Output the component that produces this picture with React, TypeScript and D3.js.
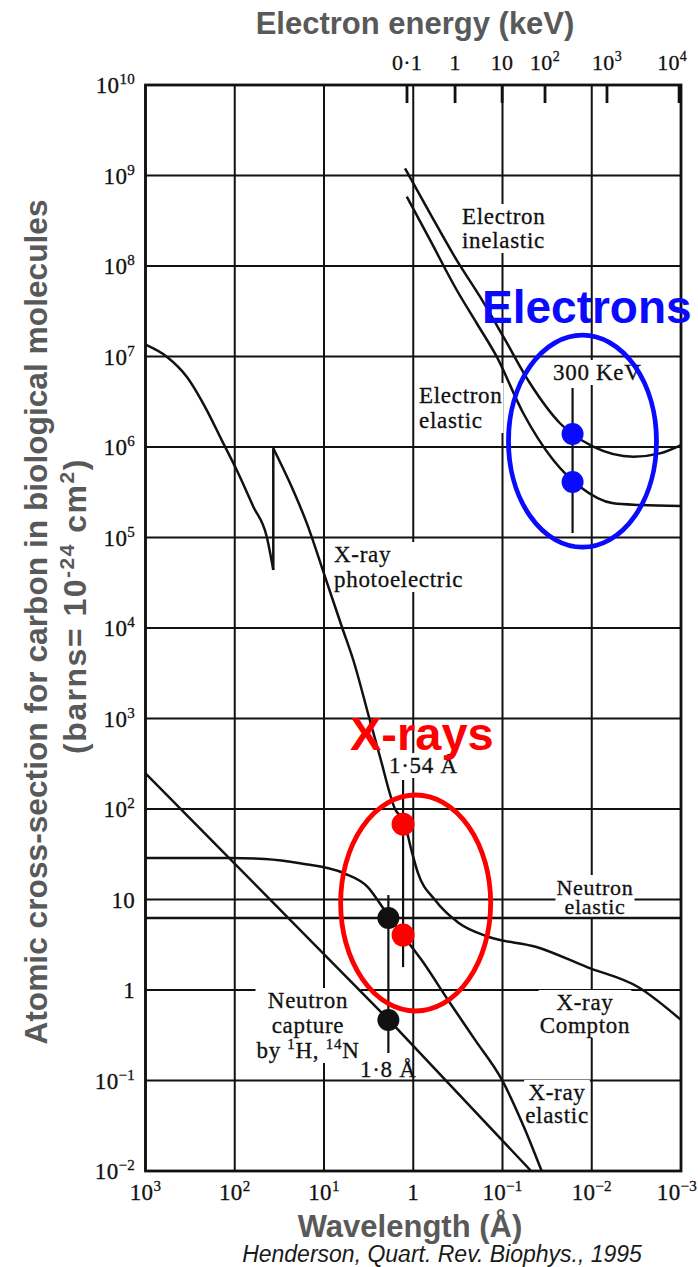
import React, { useEffect, useRef } from "react";
import * as d3 from "d3";

const W = 698;
const H = 1267;

// ---- axes ----
const wavelengthTicks = [1000, 100, 10, 1, 0.1, 0.01, 0.001];
const wavelengthTickBase = ["10", "10", "10", "1", "10", "10", "10"];
const wavelengthTickExp = ["3", "2", "1", "", "−1", "−2", "−3"];

const crossSectionTicks = [1e10, 1e9, 1e8, 1e7, 1e6, 1e5, 1e4, 1e3, 1e2, 10, 1, 0.1, 0.01];
const crossSectionTickBase = ["10", "10", "10", "10", "10", "10", "10", "10", "10", "10", "1", "10", "10"];
const crossSectionTickExp = ["10", "9", "8", "7", "6", "5", "4", "3", "2", "", "", "−1", "−2"];

// electron energy (keV) ticks on the top axis, placed at the wavelength
const energyTickBase = ["0·1", "1", "10", "10", "10", "10"];
const energyTickExp = ["", "", "", "2", "3", "4"];
const energyTickWavelength = [1.175, 0.34, 0.101, 0.0334, 0.00675, 0.00105];

// ---- curves: [wavelength (Å), cross-section (barns)] ----
const xrayPhotoelectricLong: [number, number][] = [
  [1000, 1.35e7], [578, 9.95e6], [345, 5.98e6], [206, 2.56e6], [140, 1.19e6],
  [95.1, 5.57e5], [61.9, 2.19e5], [43.8, 1.02e5], [37.0, 4.38e4],
];
const xrayPhotoelectricCompton: [number, number][] = [
  [37.0, 9.7e5], [24.0, 3.97e5], [15.6, 1.44e5], [9.75, 3.69e4], [6.24, 1.0e4],
  [4.7, 4.43e3], [3.1, 1.0e3], [2.36, 378], [1.6, 100], [1.25, 70], [1.05, 35.2],
  [0.885, 19.6], [0.57, 9.86], [0.309, 5.5], [0.1416, 3.85], [0.0416, 2.99],
  [0.0113, 1.79], [0.00303, 1.08], [0.001, 0.467],
];
const xrayElastic: [number, number][] = [
  [1000, 28.8], [113, 28.8], [45.8, 28.0], [18.6, 25.1], [5.98, 19.5], [3.25, 13.8],
  [2.1, 7.65], [1.36, 4.24], [0.806, 2.14], [0.408, 0.776], [0.203, 0.281],
  [0.1014, 0.1014], [0.0577, 0.0309], [0.0364, 0.01],
];
const electronInelastic: [number, number][] = [
  [1.236, 1.2e9], [0.649, 3.82e8], [0.326, 1.16e8], [0.1787, 4.58e7], [0.0979, 1.66e7],
  [0.0492, 5.06e6], [0.0227, 1.83e6], [0.00962, 1.01e6], [0.00342, 7.82e5],
  [0.00172, 8.51e5], [0.001, 1.05e6],
];
const electronElastic: [number, number][] = [
  [1.18, 5.83e8], [0.649, 1.94e8], [0.326, 5.43e7], [0.1945, 2.33e7], [0.1161, 9.95e6],
  [0.0585, 2.36e6], [0.027, 7.18e5], [0.01355, 3.64e5], [0.00574, 2.39e5],
  [0.00288, 2.29e5], [0.001, 2.23e5],
];
const neutronCapture: [number, number][] = [[1000, 248], [1.88, 0.467], [0.0478, 0.01]];
const neutronElastic: [number, number][] = [[1000, 6.25], [0.001, 6.25]];

// vertical marker lines: [wavelength, top, bottom]
const markerLines: [number, number, number][] = [
  [0.0164, 4.49e6, 1.12e5],
  [1.3, 209, 1.79],
  [1.9, 11.2, 0.201],
];
const electronDots: [number, number][] = [[0.0164, 1.39e6], [0.0164, 4.1e5]];
const xrayDots: [number, number][] = [[1.3, 68], [1.3, 4.05]];
const neutronDots: [number, number][] = [[1.9, 6.25], [1.9, 0.467]];
const electronEllipseCenter: [number, number] = [0.0127, 1.16e6];
const xrayEllipseCenter: [number, number] = [0.94, 9.15];

const serif = "'Liberation Serif', 'DejaVu Serif', serif";
const sans = "'Liberation Sans', Arial, sans-serif";
const INK = "#111";
const GREY = "#595959";
const BLUE = "#0a0aff";
const RED = "#ff0000";

type Seg = [string, boolean];

export default function App() {
  const ref = useRef<SVGSVGElement | null>(null);

  useEffect(() => {
    document.body.style.margin = "0";
    const svg = d3.select(ref.current);
    svg.selectAll("*").remove();

    const x = d3.scaleLog().domain([1000, 0.001]).range([145.5, 681]);
    const y = d3.scaleLog().domain([1e10, 1e-2]).range([85, 1171]);
    const [x0, x1] = x.range();
    const [y0, y1] = y.range();

    svg.append("rect").attr("width", W).attr("height", H).attr("fill", "#fff");

    const gGrid = svg.append("g");
    const gBg = svg.append("g");
    const gLines = svg.append("g");
    const gText = svg.append("g");
    const gAnno = svg.append("g");

    // grid
    gGrid.selectAll("line.v").data(wavelengthTicks).join("line")
      .attr("x1", (d) => x(d)).attr("x2", (d) => x(d)).attr("y1", y0).attr("y2", y1)
      .attr("stroke", INK).attr("stroke-width", 2);
    gGrid.selectAll("line.h").data(crossSectionTicks).join("line")
      .attr("x1", x0).attr("x2", x1).attr("y1", (d) => y(d)).attr("y2", (d) => y(d))
      .attr("stroke", INK).attr("stroke-width", 2);
    gLines.append("rect").attr("x", x0).attr("y", y0).attr("width", x1 - x0).attr("height", y1 - y0)
      .attr("fill", "none").attr("stroke", INK).attr("stroke-width", 2.8);

    // top energy ticks
    gLines.selectAll("line.et").data(energyTickWavelength).join("line")
      .attr("x1", (d) => x(d)).attr("x2", (d) => x(d)).attr("y1", y0).attr("y2", y0 + 18)
      .attr("stroke", INK).attr("stroke-width", 2.8);

    const addText = (
      g: any, lines: Seg[][], tx: number, baselines: number[], anchor: string,
      size: number,
      opts: { family?: string; weight?: string; fill?: string; style?: string; ls?: number; supSize?: number; supDy?: number; bg?: boolean; stroke?: number } = {}
    ) => {
      const t = g.append("text")
        .attr("font-family", opts.family ?? serif)
        .attr("font-size", size)
        .attr("font-weight", opts.weight ?? "normal")
        .attr("font-style", opts.style ?? "normal")
        .attr("letter-spacing", opts.ls ?? 0)
        .attr("text-anchor", anchor)
        .attr("fill", opts.fill ?? INK);
      if (opts.stroke) t.attr("stroke", opts.fill ?? INK).attr("stroke-width", opts.stroke);
      const supSize = opts.supSize ?? Math.round(size * 0.65);
      const supDy = opts.supDy ?? Math.round(size * 0.4);
      lines.forEach((segs, i) => {
        let raised = false;
        segs.forEach(([s, sup], j) => {
          const ts = t.append("tspan").text(s);
          if (j === 0) {
            ts.attr("x", tx).attr("y", baselines[i] - (sup ? supDy : 0));
            raised = sup;
          } else if (sup && !raised) {
            ts.attr("dy", -supDy);
            raised = true;
          } else if (!sup && raised) {
            ts.attr("dy", supDy);
            raised = false;
          }
          if (sup) ts.attr("font-size", supSize);
        });
      });
      if (opts.bg) {
        const b = (t.node() as SVGTextElement).getBBox();
        gBg.append("rect").attr("x", b.x - 1).attr("y", b.y).attr("width", b.width + 2)
          .attr("height", b.height).attr("fill", "#fff");
      }
      return t;
    };

    const tick = { ls: 0.3, supSize: 15, supDy: 9, stroke: 0.3 };
    // axis labels
    wavelengthTicks.forEach((v, i) => {
      const last = i === wavelengthTicks.length - 1;
      addText(gText, [[[wavelengthTickBase[i], false], [wavelengthTickExp[i], true]]], last ? 697 : x(v), [1200], last ? "end" : "middle", 23, tick);
    });
    crossSectionTicks.forEach((v, i) => {
      addText(gText, [[[crossSectionTickBase[i], false], [crossSectionTickExp[i], true]]], 135, [y(v) + 8], "end", 23, tick);
    });
    energyTickWavelength.forEach((v, i) => {
      const last = i === energyTickWavelength.length - 1;
      addText(gText, [[[energyTickBase[i], false], [energyTickExp[i], true]]], last ? x(v) + 8 : x(v), [70], last ? "end" : "middle", 22, { ...tick, supSize: 14 });
    });

    // titles
    addText(gText, [[["Electron energy (keV)", false]]], 415, [34], "middle", 31, { family: sans, weight: "bold", fill: GREY });
    addText(gText, [[["Wavelength (Å)", false]]], 410, [1237], "middle", 31, { family: sans, weight: "bold", fill: GREY });
    addText(gText, [[["Henderson, Quart. Rev. Biophys., 1995", false]]], 442, [1262], "middle", 23, { family: sans, style: "italic", fill: "#1a1a1a" });

    const yt1 = addText(gText, [[["Atomic cross-section for carbon in biological molecules", false]]], 0, [0], "middle", 31.7, { family: sans, weight: "bold", fill: GREY });
    yt1.attr("transform", "translate(47,622) rotate(-90)");
    const yt2 = addText(gText, [[["(barns= 10", false], ["-24", true], [" cm", false], ["2", true], [")", false]]], 0, [0], "middle", 32, { family: sans, weight: "bold", fill: GREY, supSize: 21, supDy: 12, ls: 1.5 });
    yt2.attr("transform", "translate(86,606) rotate(-90)");

    // in-plot labels
    const lab = { ls: 0.7, supSize: 15, supDy: 9, bg: true, stroke: 0.3 };
    addText(gText, [[["Electron", false]], [["inelastic", false]]], 462, [224, 248], "start", 23, lab);
    addText(gText, [[["Electron", false]], [["elastic", false]]], 419, [403, 428], "start", 23, lab);
    addText(gText, [[["300 KeV", false]]], 553, [380], "start", 23, lab);
    addText(gText, [[["X-ray", false]], [["photoelectric", false]]], 334, [562, 587], "start", 23, lab);
    addText(gText, [[["1·54 Å", false]]], 389, [773], "start", 23, lab);
    addText(gText, [[["Neutron", false]], [["elastic", false]]], 595, [895, 914], "middle", 22, lab);
    addText(gText, [[["X-ray", false]], [["Compton", false]]], 585, [1010, 1033], "middle", 23, lab);
    addText(gText, [[["Neutron", false]], [["capture", false]], [["by ", false], ["1", true], ["H, ", false], ["14", true], ["N", false]]], 308, [1008, 1033, 1058], "middle", 23, lab);
    addText(gText, [[["1·8 Å", false]]], 360, [1077], "start", 23, { ...lab, bg: false });
    addText(gText, [[["X-ray", false]], [["elastic", false]]], 557, [1100, 1123], "middle", 23, lab);

    // curves
    const line = d3.line<[number, number]>().x((d) => x(d[0])).y((d) => y(d[1])).curve(d3.curveMonotoneX);
    const straight = d3.line<[number, number]>().x((d) => x(d[0])).y((d) => y(d[1]));
    const curves: [number, number][][] = [
      xrayPhotoelectricLong, xrayPhotoelectricCompton, xrayElastic,
      electronInelastic, electronElastic,
    ];
    curves.forEach((c) => {
      gLines.append("path").attr("d", line(c)).attr("fill", "none").attr("stroke", INK)
        .attr("stroke-width", 2.5).attr("stroke-linejoin", "round");
    });
    [neutronCapture, neutronElastic,
      [xrayPhotoelectricLong[xrayPhotoelectricLong.length - 1], xrayPhotoelectricCompton[0]] as [number, number][]]
      .forEach((c) => {
        gLines.append("path").attr("d", straight(c)).attr("fill", "none").attr("stroke", INK).attr("stroke-width", 2.5);
      });

    gLines.selectAll("line.mk").data(markerLines).join("line")
      .attr("x1", (d) => x(d[0])).attr("x2", (d) => x(d[0]))
      .attr("y1", (d) => y(d[1])).attr("y2", (d) => y(d[2]))
      .attr("stroke", INK).attr("stroke-width", 2.2);

    // annotations
    gAnno.append("ellipse").attr("cx", x(electronEllipseCenter[0])).attr("cy", y(electronEllipseCenter[1]))
      .attr("rx", 74).attr("ry", 106).attr("fill", "none").attr("stroke", BLUE).attr("stroke-width", 4.8);
    gAnno.append("ellipse").attr("cx", x(xrayEllipseCenter[0])).attr("cy", y(xrayEllipseCenter[1]))
      .attr("rx", 75).attr("ry", 108).attr("fill", "none").attr("stroke", RED).attr("stroke-width", 4.8);

    gAnno.selectAll("circle.n").data(neutronDots).join("circle")
      .attr("cx", (d) => x(d[0])).attr("cy", (d) => y(d[1])).attr("r", 11).attr("fill", INK);
    gAnno.selectAll("circle.x").data(xrayDots).join("circle")
      .attr("cx", (d) => x(d[0])).attr("cy", (d) => y(d[1])).attr("r", 11.5).attr("fill", RED);
    gAnno.selectAll("circle.e").data(electronDots).join("circle")
      .attr("cx", (d) => x(d[0])).attr("cy", (d) => y(d[1])).attr("r", 11).attr("fill", BLUE);

    addText(gAnno, [[["Electrons", false]]], 482, [323], "start", 46, { family: sans, weight: "bold", fill: BLUE });
    addText(gAnno, [[["X-rays", false]]], 350, [750], "start", 47, { family: sans, weight: "bold", fill: RED });
  }, []);

  return <svg ref={ref} width={W} height={H} style={{ display: "block" }} />;
}
